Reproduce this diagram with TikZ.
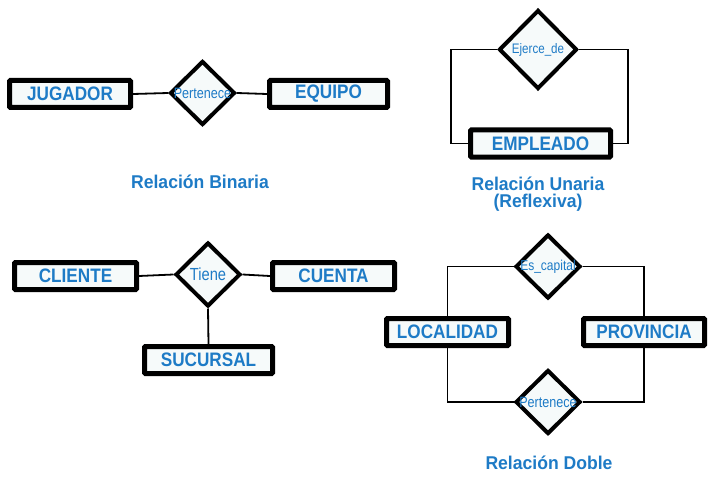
\documentclass[tikz,border=0pt]{standalone}
\usepackage{fontspec}
\setmainfont{Liberation Sans}
\newfontfamily\cfont[FakeStretch=0.88]{Liberation Sans}
\newfontfamily\tfont[FakeStretch=0.95]{Liberation Sans}
\newfontfamily\dfont[FakeStretch=0.84]{Liberation Sans}
\usetikzlibrary{shapes.geometric}
\definecolor{erblue}{HTML}{1E7BC6}
\definecolor{erfill}{HTML}{F6FAFA}
\tikzset{
  entity/.style={draw=black, line width=5pt, fill=erfill, rectangle, rounded corners=1pt,
    minimum height=27pt, inner sep=0pt, text=erblue,
    font=\cfont\bfseries\fontsize{19.5}{22}\selectfont},
  rel/.style={draw=black, line width=4pt, fill=erfill, diamond, inner sep=0pt,
    minimum width=65pt, minimum height=64pt, label={[text=erblue, inner sep=0pt]center:#1}},
  link/.style={draw=black, line width=1.8pt},
  caption/.style={text=erblue, font=\tfont\bfseries\fontsize{18.5}{19}\selectfont, align=center},
}
\begin{document}
\begin{tikzpicture}[x=1pt,y=-1pt]
\useasboundingbox (0,0) rectangle (713,487);
% --- Relacion binaria
\node[entity, minimum width=121pt] (jug) at (70,94) {JUGADOR};
\node[entity, minimum width=118pt] (equ) at (328.5,94) {EQUIPO};
\node[rel={\dfont\fontsize{15}{16}\selectfont Pertenece}] (per1) at (202.5,93) {};
\draw[link] (jug.east) -- (per1.west);
\draw[link] (per1.east) -- (equ.west);
\node[caption] (cap1) at (200,182) {Relación Binaria};
% --- Relacion unaria
\node[rel={\dfont\fontsize{13.8}{15}\selectfont Ejerce\_de}, minimum width=78pt, minimum height=79pt] (eje) at (538,49.5) {};
\node[entity, minimum width=140pt] (emp) at (540.5,143.5) {EMPLEADO};
\coordinate (jl) at (451,143.5);
\coordinate (jr) at (628,143.5);
\draw[link] (eje.west) -| (jl) -- (emp.west);
\draw[link] (eje.east) -| (jr) -- (emp.east);
\node[caption] (cap2) at (538,194.5) {Relación Unaria\\[-2pt](Reflexiva)};
% --- Relacion ternaria
\node[entity, minimum width=122pt] (cli) at (75.5,276) {CLIENTE};
\node[entity, minimum width=122pt] (cue) at (333.5,276) {CUENTA};
\node[rel={\dfont\fontsize{17.5}{18}\selectfont Tiene}] (tie) at (208,274.5) {};
\node[entity, minimum width=128pt] (suc) at (208.5,360) {SUCURSAL};
\draw[link] (cli.east) -- (tie.west);
\draw[link] (tie.east) -- (cue.west);
\draw[link] (tie.south) -- (suc.north);
% --- Relacion doble
\node[rel={\dfont\fontsize{14.3}{15}\selectfont Es\_capital}] (esc) at (548,266.5) {};
\node[entity, minimum width=122pt] (loc) at (447.5,332) {LOCALIDAD};
\node[entity, minimum width=121pt] (pro) at (644,332) {PROVINCIA};
\node[rel={\dfont\fontsize{15}{16}\selectfont Pertenece}] (per2) at (548,402) {};
\draw[link] (esc.west) -| (loc.north);
\draw[link] (esc.east) -| (pro.north);
\draw[link] (loc.south) |- (per2.west);
\draw[link] (pro.south) |- (per2.east);
\node[caption] (cap3) at (549,462.5) {Relación Doble};
\end{tikzpicture}
\end{document}
